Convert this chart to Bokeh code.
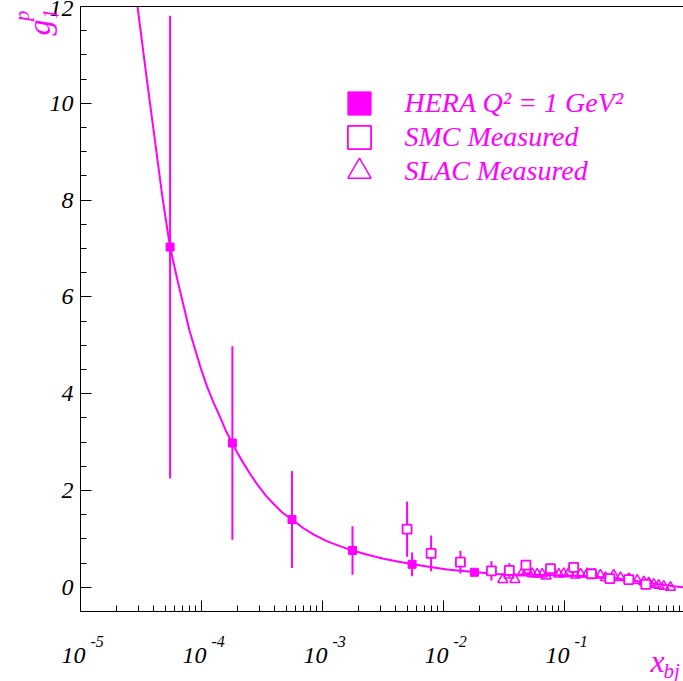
import math
from bokeh.plotting import figure
from bokeh.models import (Range1d, FixedTicker, SingleIntervalTicker, Label, LabelSet,
                          ColumnDataSource, Legend, LegendItem, LinearAxis, LogAxis)
from bokeh.embed import file_html
from bokeh.resources import INLINE

MAG = "#ff00ff"
FONT = "Liberation Serif"

# HERA (filled squares)
hera_x = [5.5e-5, 1.8e-4, 5.6e-4, 1.77e-3, 5.5e-3, 1.8e-2]
hera_y = [7.03, 2.98, 1.40, 0.76, 0.475, 0.31]
hera_err = [4.78, 2.0, 1.0, 0.5, 0.245, 0.06]

# SMC measured (open squares)
smc_x = [5.0e-3, 7.9e-3, 1.38e-2, 2.49e-2, 3.5e-2, 4.8e-2, 7.66e-2, 0.119, 0.167, 0.237, 0.34, 0.47]
smc_y = [1.20, 0.70, 0.52, 0.34, 0.35, 0.46, 0.385, 0.41, 0.28, 0.18, 0.16, 0.06]
smc_err = [0.57, 0.37, 0.235, 0.2, 0.15, 0.1, 0.08, 0.08, 0.06, 0.05, 0.05, 0.04]

# SLAC measured (open triangles)
slac_x = [0.0309, 0.0347, 0.0389, 0.0447, 0.0492, 0.0541, 0.0595, 0.0654, 0.0706, 0.0791,
          0.0898, 0.0987, 0.1086, 0.123, 0.136, 0.154, 0.175, 0.198, 0.218, 0.255,
          0.290, 0.340, 0.399, 0.452, 0.497, 0.547, 0.601, 0.662, 0.751]
slac_y = [0.16, 0.25, 0.16, 0.30, 0.35, 0.28, 0.27, 0.27, 0.23, 0.35,
          0.27, 0.28, 0.30, 0.25, 0.27, 0.28, 0.27, 0.25, 0.20, 0.25,
          0.20, 0.18, 0.145, 0.11, 0.09, 0.06, 0.04, 0.02, 0.0]

# fitted curve
fit_x = [2.96e-5, 3.51e-5, 4.14e-5, 4.76e-5, 5.5e-5, 6.34e-5, 7.14e-5, 7.94e-5, 8.65e-5, 9.77e-5,
         1.11e-4, 1.26e-4, 1.435e-4, 1.585e-4, 1.795e-4, 2.0e-4, 2.24e-4, 2.51e-4, 2.88e-4, 3.39e-4,
         3.95e-4, 4.68e-4, 5.6e-4, 6.92e-4, 8.47e-4, 1.096e-3, 1.41e-3, 1.77e-3, 2.4e-3, 3.2e-3,
         4.27e-3, 5.6e-3, 7.76e-3, 1.07e-2, 1.78e-2, 2.78e-2, 0.04, 0.05, 0.07, 0.1,
         0.14, 0.2, 0.27, 0.35, 0.45, 0.55, 0.68, 0.8, 0.96]
fit_y = [12.0, 10.55, 9.2, 8.05, 7.03, 6.34, 5.80, 5.31, 5.0, 4.56,
         4.15, 3.81, 3.50, 3.24, 2.98, 2.76, 2.55, 2.35, 2.13, 1.90,
         1.72, 1.54, 1.40, 1.225, 1.09, 0.948, 0.845, 0.76, 0.668, 0.59,
         0.529, 0.475, 0.419, 0.37, 0.316, 0.275, 0.262, 0.257, 0.252, 0.245,
         0.232, 0.21, 0.18, 0.147, 0.11, 0.078, 0.045, 0.022, 0.0]

x_ticks = [1e-5, 1e-4, 1e-3, 1e-2, 1e-1, 1.0]
x_tick_base = ["10", "10", "10", "10", "10"]
x_tick_exp = ["-5", "-4", "-3", "-2", "-1"]

X_LO, X_HI = 1e-5, 1.0
Y_LO, Y_HI = -0.5, 12.0

# canvas geometry: frame spans the whole canvas, axes sit at fixed data locations
W, H = 683, 681
AX_L, AX_T, AX_B = 80, 6, 611
PX_DEC = 121.0
py = (AX_B - AX_T) / (Y_HI - Y_LO)
x_start = 10 ** (math.log10(X_LO) - AX_L / PX_DEC)
x_end = 10 ** (math.log10(X_LO) + (W - AX_L) / PX_DEC)
y_end = Y_HI + AX_T / py
y_start = Y_LO - (H - AX_B) / py

p = figure(width=W, height=H, x_axis_type="log", x_axis_location=None, y_axis_location=None,
           x_range=Range1d(x_start, x_end), y_range=Range1d(y_start, y_end),
           output_backend="svg", toolbar_location=None,
           min_border=0, min_border_left=0, min_border_right=0,
           min_border_top=0, min_border_bottom=0)
p.outline_line_color = None
p.grid.visible = False
p.background_fill_color = "white"
p.border_fill_color = "white"

# left axis
ya = LinearAxis(fixed_location=X_LO, bounds=(Y_LO, Y_HI),
                ticker=SingleIntervalTicker(interval=2, num_minor_ticks=4))
ya.axis_line_color = "black"
ya.major_tick_in = 11
ya.major_tick_out = 0
ya.minor_tick_in = 6
ya.minor_tick_out = 0
ya.major_label_text_font = FONT
ya.major_label_text_font_style = "italic"
ya.major_label_text_font_size = "24px"
ya.major_label_text_color = "black"
ya.major_label_standoff = 7
p.add_layout(ya, "left")

# bottom axis
minor = []
for e in range(-5, 0):
    for k in range(2, 10):
        minor.append(k * 10 ** e)
xa = LogAxis(fixed_location=Y_LO, bounds=(X_LO, X_HI),
             ticker=FixedTicker(ticks=x_ticks, minor_ticks=minor))
xa.axis_line_color = "black"
xa.major_tick_in = 11
xa.major_tick_out = 0
xa.minor_tick_in = 6
xa.minor_tick_out = 0
xa.major_label_text_alpha = 0
xa.major_label_text_font_size = "10px"
p.add_layout(xa, "below")

# top frame line
ta = LogAxis(fixed_location=Y_HI, bounds=(X_LO, X_HI), ticker=FixedTicker(ticks=[]))
ta.axis_line_color = "black"
ta.major_tick_in = 0
ta.major_tick_out = 0
ta.minor_tick_in = 0
ta.minor_tick_out = 0
ta.major_label_text_alpha = 0
p.add_layout(ta, "above")

# data
p.line(fit_x, fit_y, line_color=MAG, line_width=2)
p.segment(x0=hera_x, y0=[y - e for y, e in zip(hera_y, hera_err)],
          x1=hera_x, y1=[y + e for y, e in zip(hera_y, hera_err)], line_color=MAG, line_width=2)
p.segment(x0=smc_x, y0=[y - e for y, e in zip(smc_y, smc_err)],
          x1=smc_x, y1=[y + e for y, e in zip(smc_y, smc_err)], line_color=MAG, line_width=2)
r_slac = p.scatter(slac_x, slac_y, marker="triangle", size=10, fill_color=None,
                   line_color=MAG, line_width=1.5)
r_smc = p.scatter(smc_x, smc_y, marker="square", size=9, fill_color="white",
                  line_color=MAG, line_width=1.8)
r_hera = p.scatter(hera_x, hera_y, marker="square", size=8, fill_color=MAG,
                   line_color=MAG, line_width=1)

# legend: one block per row so rows can sit closer than the marker box
leg_rows = [("HERA Q² = 1 GeV²", r_hera, 103), ("SMC Measured", r_smc, 137),
            ("SLAC Measured", r_slac, 170.5)]
GB = 58
for text, rend, cy in leg_rows:
    lg = Legend(items=[LegendItem(label=text, renderers=[rend])],
                location=(358.5 - GB / 2, H - (cy + GB / 2)),
                glyph_width=GB, glyph_height=GB, spacing=0,
                padding=0, margin=0, label_standoff=17,
                label_text_font=FONT, label_text_font_style="italic",
                label_text_font_size="28px", label_text_color=MAG,
                background_fill_alpha=0, border_line_alpha=0)
    p.add_layout(lg)

# x tick labels "10" with raised exponent
src = ColumnDataSource(dict(x=x_ticks[:5], base=x_tick_base, exp=x_tick_exp))
p.add_layout(LabelSet(x="x", y=H - 662, y_units="screen", text="base", source=src,
                      x_offset=5, text_align="right", text_baseline="alphabetic",
                      text_font=FONT, text_font_style="italic", text_font_size="24px",
                      text_color="black"))
p.add_layout(LabelSet(x="x", y=H - 646, y_units="screen", text="exp", source=src,
                      x_offset=10, text_align="left", text_baseline="alphabetic",
                      text_font=FONT, text_font_style="italic", text_font_size="16px",
                      text_color="black"))

# axis titles
def lab(txt, cx, cy, size, angle=0.0):
    p.add_layout(Label(x=cx, y=H - cy, x_units="screen", y_units="screen", text=txt,
                       angle=angle, text_align="left", text_baseline="alphabetic",
                       text_font=FONT, text_font_style="italic",
                       text_font_size=size, text_color=MAG))

lab("x", 650, 660, "32px")
lab("bj", 663, 670, "21px")
lab("g", 38, 35, "32px", math.pi / 2)
lab("1", 49, 18.5, "20px", math.pi / 2)
lab("p", 21, 20.5, "21px", math.pi / 2)

open("out.html", "w").write(file_html(p, INLINE))
